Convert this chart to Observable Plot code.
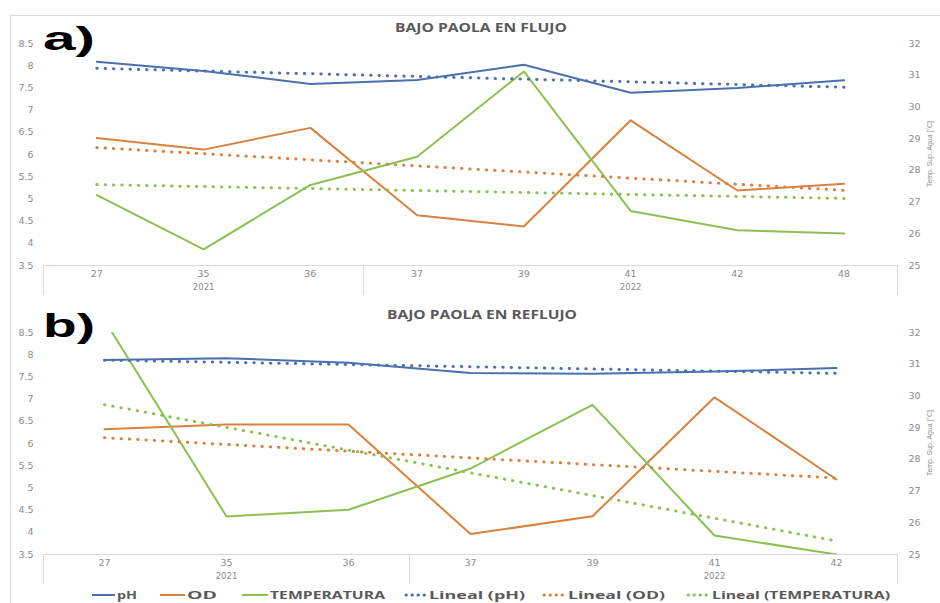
<!DOCTYPE html>
<html><head><meta charset="utf-8">
<script src="https://cdn.jsdelivr.net/npm/d3@7"></script>
<script src="https://cdn.jsdelivr.net/npm/@observablehq/plot@0.6"></script>
<style>
body{margin:0;background:#fff;}
#wrap{position:relative;width:940px;height:603px;overflow:hidden;background:#fff;}
#top,#bot{position:absolute;left:0;}
#top{top:0px}
#bot{top:300px}
#ov{position:absolute;left:0;top:0;pointer-events:none}
</style></head>
<body><div id="wrap"><div id="top"></div><div id="bot"></div></div>
<script>
// ---- data: panel a) BAJO PAOLA EN FLUJO
const weeksA = ["27","35","36","37","39","41","42","48"];
const yearsA = ["2021","2021","2021","2022","2022","2022","2022","2022"];
const phA   = [8.09, 7.88, 7.59, 7.68, 8.02, 7.39, 7.50, 7.67];
const odA   = [6.37, 6.11, 6.60, 4.63, 4.38, 6.77, 5.19, 5.34];
const tempA = [27.22, 25.51, 27.54, 28.43, 31.12, 26.72, 26.11, 26.01];

// ---- data: panel b) BAJO PAOLA EN REFLUJO
const weeksB = ["27","35","36","37","39","41","42"];
const yearsB = ["2021","2021","2021","2022","2022","2022","2022"];
const phB   = [7.88, 7.92, 7.82, 7.59, 7.57, 7.62, 7.70];
const odB   = [6.32, 6.43, 6.43, 3.96, 4.36, 7.04, 5.19];
const tempB = [32.39, 26.20, 26.41, 27.71, 29.72, 25.60, 25.00];

// ---- axes / labels
const leftTicks  = [3.5, 4, 4.5, 5, 5.5, 6, 6.5, 7, 7.5, 8, 8.5];
const rightTicks = [25, 26, 27, 28, 29, 30, 31, 32];
const titles = ["BAJO PAOLA EN FLUJO", "BAJO PAOLA EN REFLUJO"];
const panelTags = ["a)", "b)"];
const rightLabel = "Temp. Sup. Agua [°C]";
const seriesNames = ["pH", "OD", "TEMPERATURA", "Lineal (pH)", "Lineal (OD)", "Lineal (TEMPERATURA)"];

const C = {ph: "#4a70ad", od: "#d9823f", t: "#8cc152"};
const AX = "#8c8c8c";

const L0 = 3.5, L1 = 8.5, R0 = 25, R1 = 32;
const toLeft = t => L0 + (t - R0) * (L1 - L0) / (R1 - R0);
const fromLeft = v => R0 + (v - L0) * (R1 - R0) / (L1 - L0);

function panel(weeks, years, ph, od, temp, height, mt, mb) {
  const n = weeks.length;
  const rows = weeks.map((w, i) => ({i, ph: ph[i], od: od[i], t: toLeft(temp[i])}));
  const bounds = [-0.5];
  const groups = [];
  let start = 0;
  for (let i = 1; i <= n; i++) {
    if (i === n || years[i] !== years[start]) {
      groups.push({year: years[start], pos: Math.ceil((start + i - 1) / 2)});
      bounds.push(i - 0.5);
      start = i;
    }
  }
  const line = {strokeWidth: 2, clip: true, curve: "linear"};
  const trend = {ci: 0, strokeWidth: 3, strokeDasharray: "0.4 7.9", strokeLinecap: "round"};
  return Plot.plot({
    width: 940, height, marginTop: mt, marginBottom: mb, marginLeft: 43, marginRight: 43,
    style: {fontFamily: "DejaVu Sans", fontSize: "9.5px", background: "transparent", overflow: "visible"},
    x: {type: "linear", domain: [-0.5, n - 0.5]},
    y: {domain: [L0, L1]},
    marks: [
      Plot.ruleY([L0], {stroke: "#d9d9d9"}),
      Plot.ruleX(bounds, {x: d => d, y1: L0, y2: L0, insetBottom: -30, stroke: "#d9d9d9"}),
      Plot.axisY(leftTicks, {anchor: "left", tickSize: 0, tickPadding: 10, tickFormat: d => String(d), label: null, color: AX}),
      Plot.axisY(rightTicks.map(toLeft), {anchor: "right", tickSize: 0, tickPadding: 11, tickFormat: v => String(Math.round(fromLeft(v))), label: null, color: AX}),
      Plot.axisX(d3.range(n), {anchor: "bottom", tickSize: 0, tickPadding: 5, tickFormat: i => weeks[i], label: null, color: AX}),
      Plot.text(groups, {x: "pos", text: "year", frameAnchor: "bottom", dy: 24, fill: AX, fontSize: 8.5}),
      Plot.line(rows, {x: "i", y: "ph", stroke: C.ph, ...line}),
      Plot.line(rows, {x: "i", y: "od", stroke: C.od, ...line}),
      Plot.line(rows, {x: "i", y: "t", stroke: C.t, ...line}),
      Plot.linearRegressionY(rows, {x: "i", y: "ph", stroke: C.ph, ...trend}),
      Plot.linearRegressionY(rows, {x: "i", y: "od", stroke: C.od, ...trend}),
      Plot.linearRegressionY(rows, {x: "i", y: "t", stroke: C.t, ...trend})
    ]
  });
}

document.getElementById("top").appendChild(panel(weeksA, yearsA, phA, odA, tempA, 300, 43, 35));
document.getElementById("bot").appendChild(panel(weeksB, yearsB, phB, odB, tempB, 285, 32, 31));

// ---- overlay: frame, titles, tags, right axis titles, legend
const ov = d3.select("#wrap").append("svg").attr("id", "ov").attr("width", 940).attr("height", 603);
ov.append("rect").attr("x", 10.5).attr("y", 15.5).attr("width", 940).attr("height", 600)
  .attr("fill", "none").attr("stroke", "#d9d9d9");

function txt(s, x, y, size, w, o = {}) {
  const t = ov.append("text").attr("x", x).attr("y", y).text(s)
    .attr("font-family", o.family || "Open Sans")
    .attr("font-size", size)
    .attr("font-weight", o.weight || "bold")
    .attr("fill", o.fill || "#595959");
  if (w) t.attr("textLength", w).attr("lengthAdjust", "spacingAndGlyphs");
  if (o.transform) t.attr("transform", o.transform);
  if (o.anchor) t.attr("text-anchor", o.anchor);
  return t;
}

txt(titles[0], 395, 32, 12.5, 172);
txt(titles[1], 387, 319, 12.5, 190);
txt(panelTags[0], 43, 50, 34, 52, {family: "Liberation Sans", fill: "#000"});
txt(panelTags[1], 43, 337, 34, 52, {family: "Liberation Sans", fill: "#000"});
txt(rightLabel, 0, 0, 8, 66, {family: "Liberation Sans", weight: "normal", fill: AX, anchor: "middle", transform: "translate(932,154) rotate(-90)"});
txt(rightLabel, 0, 0, 8, 66, {family: "Liberation Sans", weight: "normal", fill: AX, anchor: "middle", transform: "translate(932,443) rotate(-90)"});

// legend
const legY = 595;
const legend = [
  {x0: 92, x1: 115, tx: 117, tw: 20, c: C.ph, dash: null},
  {x0: 160, x1: 185, tx: 187, tw: 30, c: C.od, dash: null},
  {x0: 242, x1: 268, tx: 270, tw: 115, c: C.t, dash: null},
  {x0: 406, x1: 427, tx: 429, tw: 96, c: C.ph, dash: "0.4 5.6"},
  {x0: 544, x1: 566, tx: 568, tw: 97, c: C.od, dash: "0.4 5.6"},
  {x0: 688, x1: 710, tx: 712, tw: 178, c: C.t, dash: "0.4 5.6"}
];
legend.forEach((d, k) => {
  const l = ov.append("line").attr("x1", d.x0).attr("x2", d.x1).attr("y1", legY).attr("y2", legY)
    .attr("stroke", d.c).attr("stroke-width", d.dash ? 3 : 2);
  if (d.dash) l.attr("stroke-dasharray", d.dash).attr("stroke-linecap", "round");
  txt(seriesNames[k], d.tx, legY + 4, 11, d.tw);
});
</script>
</body></html>
